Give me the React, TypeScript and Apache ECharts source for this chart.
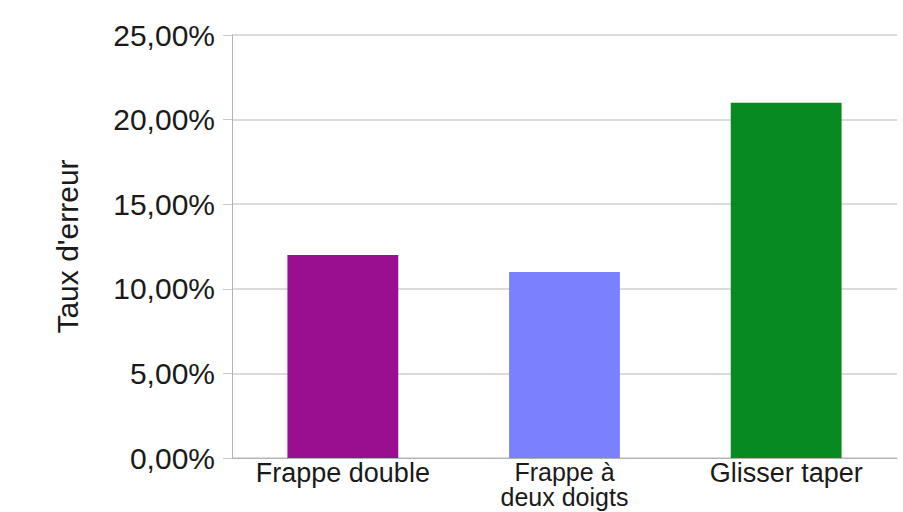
import React, { useEffect, useRef } from "react";
import * as echarts from "echarts";

const categories = ["Frappe double", "Frappe à\ndeux doigts", "Glisser taper"];
const errorRates = [12, 11, 21];
const barColors = ["#990f8f", "#7b80ff", "#078a22"];
const yTicks = [0, 5, 10, 15, 20, 25];

export default function App() {
  const ref = useRef<HTMLDivElement>(null);
  useEffect(() => {
    if (!ref.current) return;
    const chart = echarts.init(ref.current, undefined, { renderer: "svg" });
    const font = "'Liberation Sans', Arial, sans-serif";
    chart.setOption({
      animation: false,
      backgroundColor: "#ffffff",
      grid: { left: 232, right: 6, top: 35, bottom: 54, containLabel: false },
      xAxis: {
        type: "category",
        data: categories,
        axisLine: { show: true, lineStyle: { color: "#b3b3b3", width: 1 } },
        axisTick: { show: false },
        axisLabel: {
          color: "#1a1a1a",
          fontSize: 27,
          fontFamily: font,
          margin: 1,
          interval: 0,
          formatter: (v: string) => {
            const parts = v.split("\n");
            if (parts.length === 1) return "{a|" + v + "}";
            return "{b|" + parts[0] + "}\n{b|" + parts[1] + "}";
          },
          rich: {
            a: { fontSize: 27, fontFamily: font, color: "#1a1a1a", lineHeight: 28 },
            b: { fontSize: 25, fontFamily: font, color: "#1a1a1a", lineHeight: 25 },
          },
        },
      },
      yAxis: {
        type: "value",
        min: yTicks[0],
        max: yTicks[yTicks.length - 1],
        interval: 5,
        name: "Taux d'erreur",
        nameLocation: "middle",
        nameGap: 150,
        nameRotate: 90,
        nameTextStyle: { color: "#1a1a1a", fontSize: 30, fontFamily: font },
        axisLine: { show: true, lineStyle: { color: "#b3b3b3", width: 1 } },
        axisTick: { show: true, length: 9, lineStyle: { color: "#c8c8c8" } },
        splitLine: { show: true, lineStyle: { color: "#cfcfcf", width: 1.5 } },
        axisLabel: {
          color: "#1a1a1a",
          fontSize: 30,
          fontFamily: font,
          margin: 17,
          formatter: (v: number) => v.toFixed(2).replace(".", ",") + "%",
        },
      },
      series: [
        {
          type: "bar",
          barWidth: "50%",
          data: errorRates.map((v, i) => ({ value: v, itemStyle: { color: barColors[i] } })),
        },
      ],
    });
    return () => chart.dispose();
  }, []);
  return (
    <div
      ref={ref}
      style={{ position: "absolute", left: 0, top: 0, width: 903, height: 512 }}
    />
  );
}
